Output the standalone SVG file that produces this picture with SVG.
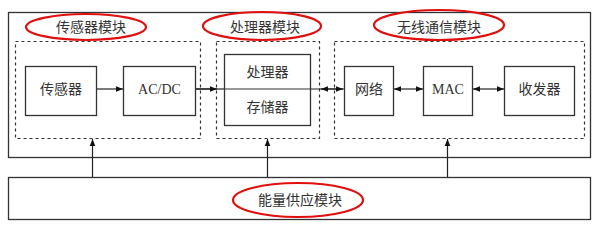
<svg xmlns="http://www.w3.org/2000/svg" width="596" height="228" viewBox="0 0 596 228">
<defs>
<style>
.box{fill:#fff;stroke:#333;stroke-width:1.3}
.dash{fill:none;stroke:#333;stroke-width:1.2;stroke-dasharray:3,3}
.ell{fill:none;stroke:#e01010;stroke-width:2.2}
.t{font-family:"Liberation Serif","Noto Sans CJK SC",serif;font-size:14px;fill:#333;text-anchor:middle}
.c{stroke:#222;stroke-width:1.2;fill:none}
</style>
<marker id="ah" viewBox="0 0 10 10" refX="10" refY="5" markerWidth="7" markerHeight="7" orient="auto-start-reverse" markerUnits="userSpaceOnUse">
<path d="M0,1 L10,5 L0,9 z" fill="#111"/>
</marker>
</defs>
<rect width="596" height="228" fill="#fff"/>
<g id="main-frame"><rect class="box" x="8.5" y="12.5" width="582" height="145"/></g>
<g id="power-frame"><rect class="box" x="8.5" y="177.5" width="582" height="42"/></g>
<g id="sensor-module">
<rect class="dash" x="15.5" y="41.5" width="185" height="97"/>
<ellipse class="ell" cx="86" cy="27" rx="60" ry="13"/>
<text class="t" x="91" y="32">传感器模块</text>
</g>
<g id="processor-module">
<rect class="dash" x="216.5" y="41.5" width="103" height="97"/>
<ellipse class="ell" cx="262" cy="26" rx="59" ry="14"/>
<text class="t" x="265" y="32">处理器模块</text>
</g>
<g id="wireless-module">
<rect class="dash" x="334.5" y="41.5" width="250" height="97"/>
<ellipse class="ell" cx="439" cy="25" rx="65" ry="15"/>
<text class="t" x="439" y="32">无线通信模块</text>
</g>
<g id="power-module">
<ellipse class="ell" cx="298" cy="200" rx="65" ry="17"/>
<text class="t" x="300" y="205">能量供应模块</text>
</g>
<g id="sensor"><rect class="box" x="25.5" y="66.5" width="71" height="49"/><text class="t" x="61" y="94">传感器</text></g>
<g id="acdc"><rect class="box" x="123.5" y="66.5" width="72" height="49"/><text class="t" x="159.5" y="94">AC/DC</text></g>
<g id="processor-storage"><rect class="box" x="224.5" y="54.5" width="86" height="71"/><line class="c" x1="224.5" y1="89" x2="310.5" y2="89" style="stroke:#333"/><text class="t" x="267.5" y="77">处理器</text><text class="t" x="267.5" y="112">存储器</text></g>
<g id="network"><rect class="box" x="344.5" y="66.5" width="49" height="49"/><text class="t" x="369" y="94">网络</text></g>
<g id="mac"><rect class="box" x="423.5" y="66.5" width="49" height="49"/><text class="t" x="448" y="94">MAC</text></g>
<g id="transceiver"><rect class="box" x="504.5" y="66.5" width="70" height="49"/><text class="t" x="539.5" y="94">收发器</text></g>
<g id="connectors">
<line class="c" x1="97" y1="89" x2="123" y2="89" marker-end="url(#ah)"/>
<line class="c" x1="196" y1="89" x2="224" y2="89"/>
<line class="c" x1="196" y1="89" x2="217" y2="89" marker-end="url(#ah)"/>
<line class="c" x1="311" y1="89" x2="344" y2="89"/>
<line class="c" x1="321" y1="89" x2="343" y2="89" marker-start="url(#ah)" marker-end="url(#ah)"/>
<line class="c" x1="394" y1="89" x2="423" y2="89" marker-start="url(#ah)" marker-end="url(#ah)"/>
<line class="c" x1="473" y1="89" x2="504" y2="89" marker-start="url(#ah)" marker-end="url(#ah)"/>
<line class="c" x1="92.5" y1="177" x2="92.5" y2="139" marker-end="url(#ah)"/>
<line class="c" x1="267.5" y1="177" x2="267.5" y2="139" marker-end="url(#ah)"/>
<line class="c" x1="447.5" y1="177" x2="447.5" y2="139" marker-end="url(#ah)"/>
</g>
</svg>
